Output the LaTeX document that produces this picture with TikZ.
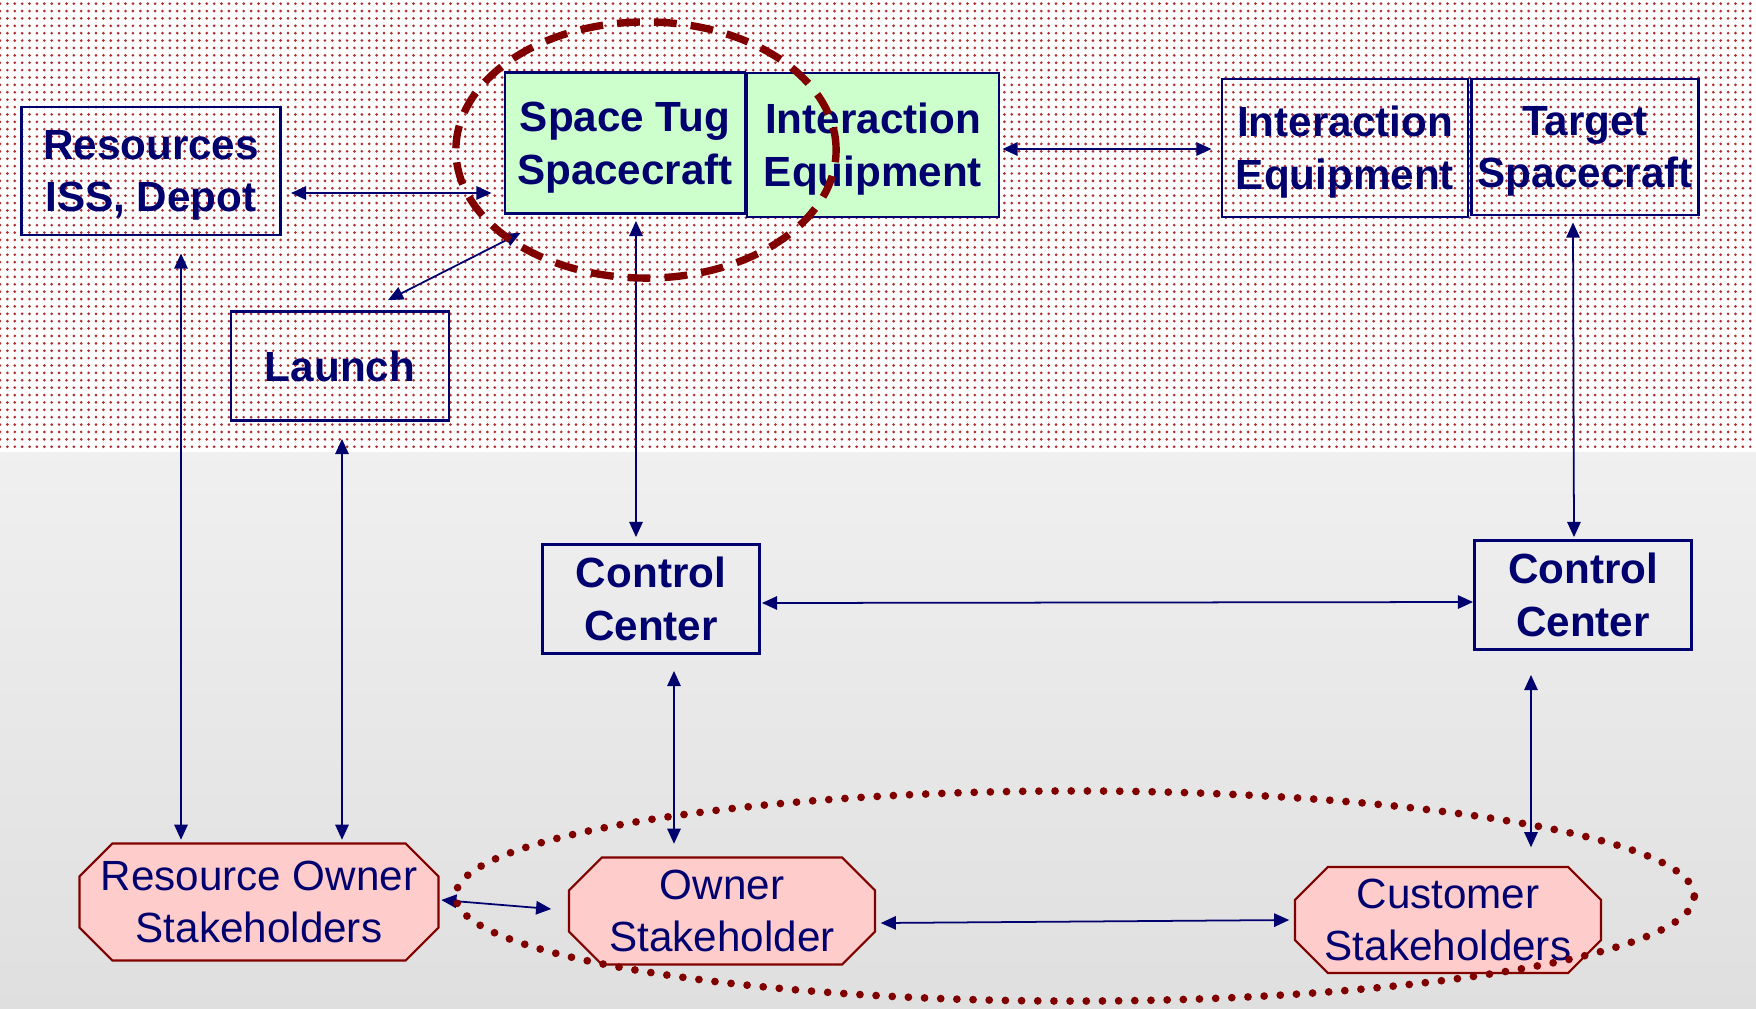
\documentclass[tikz,border=0pt]{standalone}
\usepackage{fontspec}
\setmainfont{Liberation Sans}
\usetikzlibrary{arrows.meta,patterns}

\definecolor{navy}{RGB}{0,0,110}
\definecolor{darkred}{RGB}{128,0,0}
\definecolor{tuggreen}{RGB}{204,255,204}
\definecolor{stakepink}{RGB}{255,204,204}
\definecolor{dotred}{RGB}{175,45,45}

% small red dots of the upper background
\pgfdeclarepatternformonly{reddots}{\pgfqpoint{-1pt}{-1pt}}{\pgfqpoint{1pt}{1pt}}{\pgfqpoint{2.1pt}{2.1pt}}{%
  \pgfpathcircle{\pgfpointorigin}{0.42pt}\pgfusepath{fill}}

\begin{document}
\begin{tikzpicture}[x=0.01cm, y=-0.01cm,
    box/.style={draw=navy, line width=0.8pt, text=navy, align=center, inner sep=0pt, text depth=-1.5pt,
                font=\fontsize{12}{15}\selectfont\bfseries},
    tugbox/.style={box, fill=tuggreen},
    stake/.style={rectangle, text=navy, align=center, inner sep=0pt, text depth=-0.5pt,
                  font=\fontsize{12}{14.8}\selectfont,
                  path picture={
                    \filldraw[fill=stakepink, draw=darkred, line width=0.6pt]
                      ([shift={(0.34cm,-0.3pt)}]path picture bounding box.north west)
                      -- ([shift={(-0.34cm,-0.3pt)}]path picture bounding box.north east)
                      -- ([shift={(-0.3pt,-0.34cm)}]path picture bounding box.north east)
                      -- ([shift={(-0.3pt,0.34cm)}]path picture bounding box.south east)
                      -- ([shift={(-0.34cm,0.3pt)}]path picture bounding box.south east)
                      -- ([shift={(0.34cm,0.3pt)}]path picture bounding box.south west)
                      -- ([shift={(0.3pt,0.34cm)}]path picture bounding box.south west)
                      -- ([shift={(0.3pt,-0.34cm)}]path picture bounding box.north west)
                      -- cycle;}},
    link/.style={{Triangle[length=4.3pt,width=3.8pt]}-{Triangle[length=4.3pt,width=3.8pt]},
                 navy, line width=0.5pt}
]
\useasboundingbox (0,0) rectangle (1756,1008);

% Background
\fill[white] (0,0) rectangle (1756,452);
\fill[pattern=reddots, pattern color=dotred] (0,0) rectangle (1756,452);
\shade[top color=gray!12, bottom color=gray!25] (0,452) rectangle (1756,1008);

% Upper row
\node[box, minimum width=2.59cm, minimum height=1.28cm] (res) at (151,171) {Resources\\ISS, Depot};
\node[tugbox, minimum width=2.40cm, minimum height=1.41cm] (tug) at (625,143) {Space Tug\\Spacecraft};
\node[tugbox, minimum width=2.52cm, minimum height=1.44cm] (ieq) at (873,145) {Interaction\\Equipment};
\node[box, minimum width=2.46cm, minimum height=1.38cm] (tgtie) at (1345,148) {Interaction\\Equipment};
\node[box, minimum width=2.27cm, minimum height=1.36cm] (tgt) at (1585,147) {Target\\Spacecraft};
\node[box, text depth=0pt, minimum width=2.18cm, minimum height=1.09cm] (launch) at (340,366) {Launch};

% Control centers
\node[box, minimum width=2.17cm, minimum height=1.09cm] (cc1) at (651,599) {Control\\Center};
\node[box, minimum width=2.17cm, minimum height=1.09cm] (cc2) at (1583,595) {Control\\Center};

% Stakeholders
\node[stake, minimum width=3.61cm, minimum height=1.19cm] (rown) at (259,902) {Resource Owner\\Stakeholders};
\node[stake, minimum width=3.08cm, minimum height=1.09cm] (own) at (722,911) {Owner\\Stakeholder};
\node[stake, minimum width=3.08cm, minimum height=1.08cm] (cust) at (1448,920) {Customer\\Stakeholders};

% Links
\draw[link] ([shift={(9,22)}]res.east) -- ([shift={(-12,50)}]tug.west);
\draw[link] ([shift={(48,-10)}]launch.north) -- ([shift={(17,18)}]tug.south west);
\draw[link] ([shift={(11,6)}]tug.south) -- ([shift={(-15,-6)}]cc1.north);
\draw[link] ([shift={(2,4)}]ieq.east) -- ([shift={(-9,1)}]tgtie.west);
\draw[link] ([shift={(-12,6)}]tgt.south) -- ([shift={(-9,-2)}]cc2.north);
\draw[link] ([shift={(1,4)}]cc1.east) -- ([shift={(0,7)}]cc2.west);
\draw[link] ([shift={(30,17)}]res.south) -- ([shift={(-78,-2)}]rown.north);
\draw[link] ([shift={(2,17)}]launch.south) -- ([shift={(83,-2)}]rown.north);
\draw[link] ([shift={(23,16)}]cc1.south) -- ([shift={(-48,-12)}]own.north);
\draw[link] ([shift={(-52,24)}]cc2.south) -- ([shift={(83,-18)}]cust.north);
\draw[link] ([shift={(1,-2)}]rown.east) -- ([shift={(-16,-2)}]own.west);
\draw[link] ([shift={(4,12)}]own.east) -- ([shift={(-4,0)}]cust.west);

% Highlight rings
\draw[darkred, line width=2.1pt, dash pattern=on 6.5pt off 4pt] (646,150) ellipse [x radius=1.90cm, y radius=1.28cm];
\draw[darkred, line width=2.2pt, line cap=round, dash pattern=on 0pt off 4.6pt] (1075,896) ellipse [x radius=6.19cm, y radius=1.05cm];

\end{tikzpicture}
\end{document}
